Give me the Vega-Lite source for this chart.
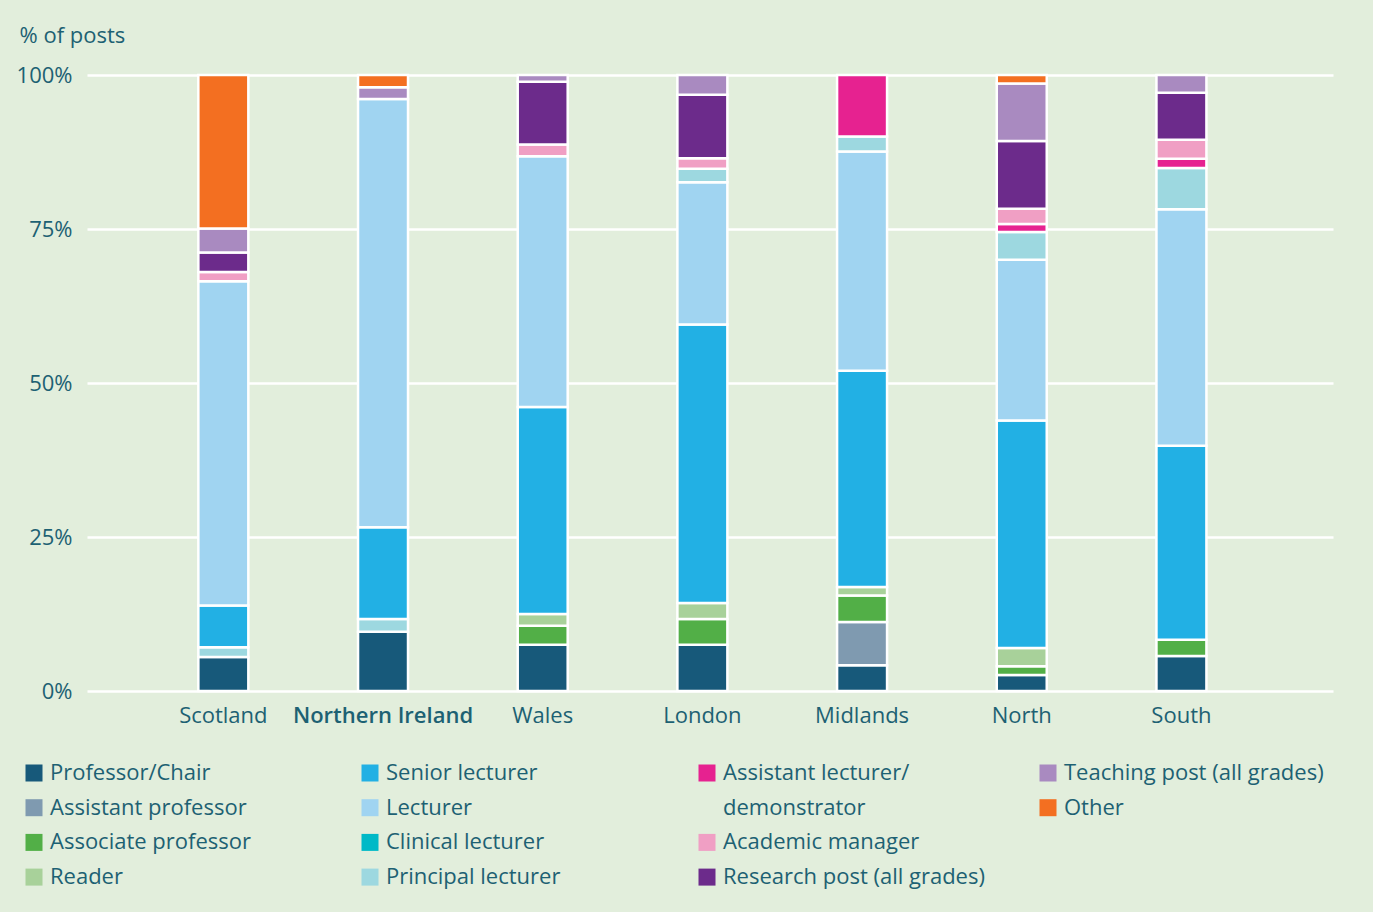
{
  "$schema": "https://vega.github.io/schema/vega-lite/v6.json",
  "width": 1246,
  "height": 616,
  "autosize": {"type": "none"},
  "padding": {"left": 87, "top": 75, "right": 40, "bottom": 221},
  "background": "#e2eedc",
  "config": {
    "font": "Open Sans",
    "view": {"stroke": null},
    "legend": {
      "orient": "none",
      "direction": "vertical",
      "title": null,
      "symbolType": "square",
      "symbolSize": 289,
      "symbolStrokeWidth": 0,
      "labelFont": "Open Sans",
      "labelFontSize": 22,
      "labelColor": "#1d6173",
      "labelOffset": 5,
      "rowPadding": 12.7,
      "labelLimit": 500,
      "padding": 0
    }
  },
  "data": {
    "values": [
      {"region": "Scotland", "role": "Professor/Chair", "pct": 5.5},
      {"region": "Scotland", "role": "Principal lecturer", "pct": 1.6},
      {"region": "Scotland", "role": "Senior lecturer", "pct": 6.8},
      {"region": "Scotland", "role": "Lecturer", "pct": 52.6},
      {"region": "Scotland", "role": "Academic manager", "pct": 1.5},
      {"region": "Scotland", "role": "Research post (all grades)", "pct": 3.2},
      {"region": "Scotland", "role": "Teaching post (all grades)", "pct": 3.9},
      {"region": "Scotland", "role": "Other", "pct": 24.9},
      {"region": "Northern Ireland", "role": "Professor/Chair", "pct": 9.6},
      {"region": "Northern Ireland", "role": "Principal lecturer", "pct": 2.1},
      {"region": "Northern Ireland", "role": "Senior lecturer", "pct": 14.9},
      {"region": "Northern Ireland", "role": "Lecturer", "pct": 69.5},
      {"region": "Northern Ireland", "role": "Teaching post (all grades)", "pct": 1.9},
      {"region": "Northern Ireland", "role": "Other", "pct": 2.0},
      {"region": "Wales", "role": "Professor/Chair", "pct": 7.5},
      {"region": "Wales", "role": "Associate professor", "pct": 3.1},
      {"region": "Wales", "role": "Reader", "pct": 1.9},
      {"region": "Wales", "role": "Senior lecturer", "pct": 33.6},
      {"region": "Wales", "role": "Lecturer", "pct": 40.7},
      {"region": "Wales", "role": "Academic manager", "pct": 1.9},
      {"region": "Wales", "role": "Research post (all grades)", "pct": 10.2},
      {"region": "Wales", "role": "Teaching post (all grades)", "pct": 1.1},
      {"region": "London", "role": "Professor/Chair", "pct": 7.5},
      {"region": "London", "role": "Associate professor", "pct": 4.2},
      {"region": "London", "role": "Reader", "pct": 2.6},
      {"region": "London", "role": "Senior lecturer", "pct": 45.2},
      {"region": "London", "role": "Lecturer", "pct": 23.1},
      {"region": "London", "role": "Principal lecturer", "pct": 2.2},
      {"region": "London", "role": "Academic manager", "pct": 1.7},
      {"region": "London", "role": "Research post (all grades)", "pct": 10.3},
      {"region": "London", "role": "Teaching post (all grades)", "pct": 3.2},
      {"region": "Midlands", "role": "Professor/Chair", "pct": 4.2},
      {"region": "Midlands", "role": "Assistant professor", "pct": 7.0},
      {"region": "Midlands", "role": "Associate professor", "pct": 4.3},
      {"region": "Midlands", "role": "Reader", "pct": 1.4},
      {"region": "Midlands", "role": "Senior lecturer", "pct": 35.1},
      {"region": "Midlands", "role": "Lecturer", "pct": 35.6},
      {"region": "Midlands", "role": "Principal lecturer", "pct": 2.4},
      {"region": "Midlands", "role": "Assistant lecturer/demonstrator", "pct": 10.0},
      {"region": "North", "role": "Professor/Chair", "pct": 2.6},
      {"region": "North", "role": "Associate professor", "pct": 1.4},
      {"region": "North", "role": "Reader", "pct": 3.0},
      {"region": "North", "role": "Senior lecturer", "pct": 36.9},
      {"region": "North", "role": "Lecturer", "pct": 26.1},
      {"region": "North", "role": "Principal lecturer", "pct": 4.5},
      {"region": "North", "role": "Assistant lecturer/demonstrator", "pct": 1.3},
      {"region": "North", "role": "Academic manager", "pct": 2.5},
      {"region": "North", "role": "Research post (all grades)", "pct": 11.0},
      {"region": "North", "role": "Teaching post (all grades)", "pct": 9.3},
      {"region": "North", "role": "Other", "pct": 1.4},
      {"region": "South", "role": "Professor/Chair", "pct": 5.7},
      {"region": "South", "role": "Associate professor", "pct": 2.6},
      {"region": "South", "role": "Senior lecturer", "pct": 31.5},
      {"region": "South", "role": "Lecturer", "pct": 38.4},
      {"region": "South", "role": "Principal lecturer", "pct": 6.7},
      {"region": "South", "role": "Assistant lecturer/demonstrator", "pct": 1.5},
      {"region": "South", "role": "Academic manager", "pct": 3.1},
      {"region": "South", "role": "Research post (all grades)", "pct": 7.6},
      {"region": "South", "role": "Teaching post (all grades)", "pct": 2.9}
    ]
  },
  "transform": [
    {"stack": "pct", "groupby": ["region"], "as": ["y0", "y1"]}
  ],
  "encoding": {
    "x": {
      "field": "region",
      "type": "nominal",
      "scale": {
        "domain": ["Scotland", "Northern Ireland", "Wales", "London", "Midlands", "North", "South"],
        "paddingInner": 0.687,
        "paddingOuter": 0.745,
        "align": 0.468
      },
      "axis": {
        "title": null,
        "labelAngle": 0,
        "labelFontSize": 22,
        "labelColor": "#1d6173",
        "labelFontWeight": {"condition": {"test": "datum.value == 'Northern Ireland'", "value": 600}, "value": 400},
        "labelLimit": 400,
        "labelPadding": 14,
        "ticks": false,
        "domain": false,
        "grid": false
      }
    },
    "y": {
      "field": "y0",
      "type": "quantitative",
      "scale": {"domain": [0, 100], "nice": false},
      "axis": {
        "title": "% of posts",
        "titleAngle": 0,
        "titleAlign": "left",
        "titleBaseline": "alphabetic",
        "titleX": -68,
        "titleY": -33,
        "titleFontSize": 22,
        "titleFontWeight": "normal",
        "titleColor": "#1d6173",
        "values": [0, 25, 50, 75, 100],
        "labelExpr": "datum.value + '%'",
        "labelFontSize": 22,
        "labelColor": "#1d6173",
        "labelPadding": 15,
        "ticks": false,
        "tickSize": 0,
        "domain": false,
        "grid": true,
        "gridColor": "#ffffff",
        "gridWidth": 2.5,
        "gridOpacity": 1
      }
    },
    "y2": {"field": "y1"}
  },
  "layer": [
    {
      "transform": [{"filter": {"field": "role", "oneOf": ["Professor/Chair", "Assistant professor", "Associate professor", "Reader"]}}],
      "mark": {"type": "bar", "stroke": "#ffffff", "strokeWidth": 2.5},
      "encoding": {
        "color": {
          "field": "role",
          "type": "nominal",
          "scale": {
            "domain": ["Professor/Chair", "Assistant professor", "Associate professor", "Reader"],
            "range": ["#17597a", "#7f9ab0", "#52af47", "#a8d19a"]
          },
          "legend": {"legendX": -64, "legendY": 687}
        }
      }
    },
    {
      "transform": [{"filter": {"field": "role", "oneOf": ["Senior lecturer", "Lecturer", "Clinical lecturer", "Principal lecturer"]}}],
      "mark": {"type": "bar", "stroke": "#ffffff", "strokeWidth": 2.5},
      "encoding": {
        "color": {
          "field": "role",
          "type": "nominal",
          "scale": {
            "domain": ["Senior lecturer", "Lecturer", "Clinical lecturer", "Principal lecturer"],
            "range": ["#22b0e4", "#a0d4f1", "#00b9c7", "#9dd8e0"]
          },
          "legend": {"legendX": 272, "legendY": 687}
        }
      }
    },
    {
      "transform": [{"filter": {"field": "role", "oneOf": ["Assistant lecturer/demonstrator", "Academic manager", "Research post (all grades)"]}}],
      "mark": {"type": "bar", "stroke": "#ffffff", "strokeWidth": 2.5},
      "encoding": {
        "color": {
          "field": "role",
          "type": "nominal",
          "scale": {
            "domain": ["Assistant lecturer/demonstrator", "demonstrator", "Academic manager", "Research post (all grades)"],
            "range": ["#e62290", "transparent", "#f09fc4", "#6c2b8b"]
          },
          "legend": {
            "legendX": 609,
            "legendY": 687,
            "labelExpr": "datum.label == 'Assistant lecturer/demonstrator' ? 'Assistant lecturer/' : datum.label"
          }
        }
      }
    },
    {
      "transform": [{"filter": {"field": "role", "oneOf": ["Teaching post (all grades)", "Other"]}}],
      "mark": {"type": "bar", "stroke": "#ffffff", "strokeWidth": 2.5},
      "encoding": {
        "color": {
          "field": "role",
          "type": "nominal",
          "scale": {
            "domain": ["Teaching post (all grades)", "Other"],
            "range": ["#a98ac0", "#f36f21"]
          },
          "legend": {"legendX": 950, "legendY": 687}
        }
      }
    }
  ],
  "resolve": {"scale": {"color": "independent"}, "legend": {"color": "independent"}}
}
